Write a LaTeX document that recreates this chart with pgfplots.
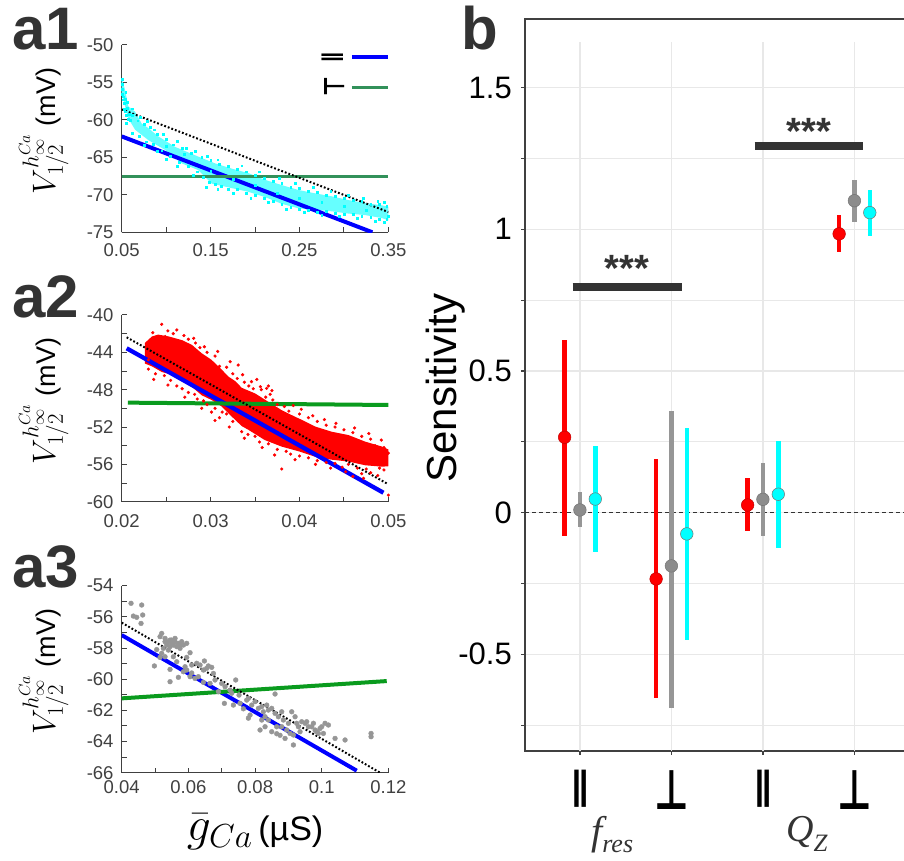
\RequirePackage{fix-cm}
\documentclass[border=0pt]{standalone}
\usepackage{fontspec}
\setmainfont{Liberation Sans}
\newfontfamily\dejavu{DejaVu Sans}
\newfontfamily\timesf{Liberation Serif}
\usepackage{pgfplots}
\pgfplotsset{compat=1.18}
\definecolor{axgray}{HTML}{404040}
\definecolor{lbl}{HTML}{333333}
\definecolor{sgreen}{RGB}{50,145,90}
\definecolor{mgreen}{RGB}{10,155,30}
\definecolor{ptgray}{RGB}{150,150,150}
\definecolor{bgray}{RGB}{150,150,150}
\definecolor{mgray}{RGB}{140,140,140}
\definecolor{gridc}{RGB}{232,232,232}
\definecolor{cyanc}{RGB}{0,255,255}
\pgfplotsset{
  apanel/.style={
    scale only axis, width=266.7pt, anchor=south west,
    axis x line*=bottom, axis y line*=left,
    axis line style={axgray, line width=1.3pt, -},
    scaled x ticks=false, scaled y ticks=false,
    tick align=inside,
    major tick length=5pt, minor tick length=5pt,
    every tick/.append style={axgray, line width=1pt},
    tick label style={font=\fontsize{18.5}{20}\selectfont, text=axgray, inner sep=0pt},
    yticklabel style={anchor=east, xshift=-8pt},
    xticklabel style={anchor=north},
    ylabel style={at={(axis description cs:-0.25,0.54)}, anchor=base, font=\fontsize{27}{30}\selectfont, text=black},
  },
  bluel/.style={blue, line width=4pt},
  dotl/.style={black, line width=2pt, dash pattern=on 1.8pt off 2pt},
}
\newcommand{\vlab}{\scalebox{1.2}{$V^{h^{Ca}_{\infty}}_{1/2}$} (mV)}
\begin{document}
\begin{tikzpicture}
\path[use as bounding box] (0pt,0pt) rectangle (904pt,861pt);

% ---------------- a1 ----------------
\begin{axis}[apanel, at={(121.7pt,628.7pt)}, height=187.3pt,
  xmin=0.05, xmax=0.35, ymin=-75, ymax=-50,
  xtick={0.05,0.15,0.25,0.35}, xticklabels={0.05,0.15,0.25,0.35},
  minor xtick={0.1,0.2,0.3},
  ytick={-75,-70,-65,-60,-55,-50}, yticklabels={-75,-70,-65,-60,-55,-50},
  xticklabel style={yshift=-11pt},
  ylabel={\vlab}]
\addplot[fill=cyanc!60!white, draw=none, forget plot] coordinates {
(0.05,-54.45) (0.0538,-56.0) (0.0575,-58.2) (0.065,-58.9) (0.0725,-60.5) (0.08,-61.1) (0.0912,-62.2) (0.110,-63.6) (0.1362,-64.9) (0.155,-65.8) (0.1737,-66.5) (0.1925,-67.1) (0.2112,-68.0) (0.23,-68.7) (0.2487,-69.35) (0.2675,-69.8) (0.2862,-70.2) (0.305,-70.7) (0.3237,-71.1) (0.3425,-71.4) (0.35,-71.6)
(0.35,-73.4) (0.3425,-73.1) (0.3237,-72.7) (0.305,-72.5) (0.2862,-72.2) (0.2675,-72.0) (0.2487,-71.8) (0.23,-71.2) (0.2112,-70.3) (0.1925,-69.6) (0.1737,-69.1) (0.1512,-68.5) (0.1362,-66.7) (0.1175,-65.8) (0.0987,-64.0) (0.08,-62.7) (0.065,-61.3) (0.0575,-59.8) (0.0538,-58.2) (0.05,-56.5)};
\addplot[only marks, mark=square*, mark size=0.9pt, cyanc, forget plot] coordinates {
(0.0502,-54.6) (0.0505,-55.2) (0.0508,-55.9) (0.0503,-56.6) (0.0512,-57.3) (0.0518,-56.9) (0.0525,-57.8) (0.053,-58.6) (0.0535,-57.2) (0.054,-58.9) (0.0552,-59.4) (0.056,-58.4) (0.0572,-59.9) (0.0585,-59.2) (0.06,-60.0) (0.0615,-59.4)
(0.068,-60.1) (0.075,-60.6) (0.082,-61.0) (0.09,-61.9) (0.1,-62.6) (0.108,-63.3) (0.118,-63.8) (0.128,-64.4) (0.14,-65.0) (0.15,-65.4) (0.16,-65.9) (0.17,-66.2) (0.18,-66.6) (0.19,-66.9) (0.2,-67.4) (0.21,-67.8) (0.22,-68.2) (0.23,-68.5) (0.24,-69.0) (0.25,-69.1) (0.26,-69.5) (0.27,-69.6) (0.28,-70.0) (0.29,-70.2) (0.3,-70.5) (0.31,-70.7) (0.32,-70.9) (0.33,-71.2) (0.34,-71.3) (0.348,-71.5)
(0.07,-62.2) (0.078,-62.9) (0.085,-63.2) (0.095,-64.1) (0.105,-64.8) (0.115,-65.6) (0.125,-66.2) (0.135,-66.9) (0.142,-67.6) (0.148,-68.3) (0.155,-68.6) (0.162,-68.8) (0.17,-69.2) (0.18,-69.3) (0.19,-69.8) (0.2,-70.1) (0.21,-70.5) (0.22,-70.9) (0.23,-71.3) (0.24,-71.6) (0.25,-71.9) (0.26,-72.0) (0.27,-72.3) (0.28,-72.2) (0.29,-72.5) (0.3,-72.6) (0.31,-72.6) (0.32,-72.9) (0.33,-73.0) (0.34,-73.2) (0.348,-73.3) (0.35,-72.8)
(0.1,-63.5) (0.15,-66.8) (0.2,-68.7) (0.25,-70.5) (0.3,-71.5) (0.12,-64.6) (0.175,-67.9) (0.225,-69.8) (0.275,-71.0) (0.325,-72.0)
(0.0545,-56.3) (0.0565,-57.6) (0.0622,-58.5) (0.071,-59.6) (0.079,-60.2) (0.087,-61.3) (0.097,-61.9) (0.112,-62.8) (0.123,-63.8) (0.133,-64.2) (0.146,-64.8) (0.158,-65.3) (0.185,-66.1) (0.205,-66.9) (0.227,-67.8) (0.245,-68.4) (0.265,-69.0) (0.285,-69.5) (0.305,-70.0) (0.322,-70.4) (0.338,-70.8) (0.345,-71.0)
(0.0555,-60.4) (0.062,-61.8) (0.075,-63.4) (0.09,-64.2) (0.1,-65.2) (0.112,-66.2) (0.13,-67.4) (0.145,-69.0) (0.158,-69.3) (0.175,-69.8) (0.195,-70.4) (0.215,-71.0) (0.235,-71.9) (0.255,-72.3) (0.275,-72.7) (0.295,-72.9) (0.315,-73.1) (0.335,-73.5) (0.345,-73.7)};
\addplot[bluel, forget plot] coordinates {(0.05,-62.2) (0.332,-75)};
\addplot[sgreen, line width=3.4pt, forget plot] coordinates {(0.05,-67.57) (0.35,-67.57)};
\addplot[dotl, forget plot] coordinates {(0.05,-58.6) (0.35,-72.3)};
% legend
\addplot[bluel, forget plot] coordinates {(0.3088,-51.6) (0.35,-51.6)};
\addplot[sgreen, line width=3.4pt, forget plot] coordinates {(0.3088,-55.65) (0.35,-55.65)};
\node[rotate=-90, inner sep=0pt, font=\dejavu\bfseries\fontsize{22}{22}\selectfont] at (axis cs:0.2871,-51.65) {∥};
\node[rotate=-90, inner sep=0pt, font=\dejavu\bfseries\fontsize{22}{22}\selectfont] at (axis cs:0.2895,-55.6) {\scalebox{1}[1.3]{⊥}};
\end{axis}

% ---------------- a2 ----------------
\begin{axis}[apanel, at={(121.7pt,359.3pt)}, height=186.7pt,
  xmin=0.02, xmax=0.05, ymin=-60, ymax=-40,
  xtick={0.02,0.03,0.04,0.05}, xticklabels={0.02,0.03,0.04,0.05},
  minor xtick={0.025,0.035,0.045},
  ytick={-60,-56,-52,-48,-44,-40}, yticklabels={-60,-56,-52,-48,-44,-40},
  minor ytick={-58,-54,-50,-46,-42},
  xticklabel style={yshift=-13pt},
  ylabel={\vlab}]
\addplot[fill=red, draw=none, forget plot] coordinates {
(0.0226,-43.0) (0.0234,-42.3) (0.0241,-42.1) (0.0253,-42.3) (0.0268,-42.7) (0.0279,-43.2) (0.029,-44.1) (0.0301,-44.8) (0.0313,-45.9) (0.032,-46.6) (0.0328,-47.1) (0.0335,-47.8) (0.035,-48.4) (0.0365,-49.3) (0.038,-50.2) (0.0395,-50.9) (0.0403,-51.25) (0.0418,-51.96) (0.0436,-52.5) (0.0455,-52.86) (0.0474,-53.57) (0.0493,-54.1) (0.05,-54.4)
(0.05,-56.2) (0.0493,-56.25) (0.0474,-56.1) (0.0455,-55.7) (0.0436,-55.5) (0.0418,-55.2) (0.0399,-54.6) (0.038,-54.1) (0.0361,-53.4) (0.03425,-52.3) (0.0335,-51.9) (0.0324,-50.9) (0.03125,-49.8) (0.0301,-49.1) (0.029,-48.6) (0.0279,-47.7) (0.02675,-47.1) (0.0256,-46.4) (0.0245,-46.1) (0.0234,-45.5) (0.0226,-45.2)};
\addplot[only marks, mark=*, mark size=1.4pt, red, forget plot] coordinates {
(0.0235,-41.9) (0.0245,-41.0) (0.0249,-42.3) (0.0258,-42.0) (0.0262,-41.6) (0.027,-42.2) (0.0275,-42.6) (0.0283,-43.0) (0.0288,-43.5) (0.0296,-44.0) (0.0305,-44.4) (0.031,-45.5) (0.0318,-45.6) (0.0325,-46.3) (0.033,-46.8) (0.0338,-47.2) (0.0343,-47.6) (0.0348,-47.9) (0.0357,-48.0) (0.0365,-47.6) (0.0369,-48.1) (0.0362,-48.8) (0.037,-49.1) (0.0375,-49.6) (0.0388,-50.3) (0.0393,-49.7) (0.04,-50.6) (0.041,-51.0) (0.042,-51.4) (0.043,-51.8) (0.044,-52.0) (0.045,-52.3) (0.046,-52.6) (0.047,-53.0) (0.048,-53.3) (0.0485,-54.0) (0.0495,-54.2) (0.05,-54.8)
(0.023,-45.8) (0.0238,-46.3) (0.0248,-46.5) (0.0255,-47.0) (0.0262,-47.6) (0.0268,-47.9) (0.0275,-48.3) (0.0282,-48.5) (0.0285,-49.0) (0.0292,-49.2) (0.0296,-49.6) (0.0301,-50.4) (0.0305,-50.0) (0.031,-51.0) (0.0313,-50.4) (0.0318,-50.6) (0.0325,-51.4) (0.0335,-52.5) (0.0342,-52.8) (0.035,-53.0) (0.0355,-53.6) (0.0365,-53.8) (0.0375,-54.4) (0.038,-56.5) (0.0385,-54.6) (0.039,-54.9) (0.04,-55.1) (0.041,-55.3) (0.042,-55.6) (0.043,-55.8) (0.044,-55.9) (0.0448,-56.3) (0.0455,-56.0) (0.046,-57.3) (0.0465,-56.4) (0.047,-57.0) (0.0475,-56.5) (0.048,-56.9) (0.049,-56.4) (0.0495,-56.6) (0.05,-59.3)
(0.0331,-45.36) (0.0346,-47.14) (0.0356,-47.68) (0.0363,-47.86) (0.023,-44.8) (0.0228,-44.1)
(0.0252,-41.7) (0.0281,-42.5) (0.0293,-43.4) (0.0308,-43.9) (0.0322,-45.0) (0.0336,-46.4) (0.0352,-46.9) (0.0367,-48.5) (0.0383,-49.8) (0.0402,-50.1) (0.0415,-50.8) (0.0428,-51.2) (0.0441,-51.6) (0.0462,-52.1) (0.0478,-52.7) (0.0492,-53.4)
(0.0236,-46.9) (0.0252,-47.5) (0.0271,-48.8) (0.029,-50.0) (0.0305,-51.3) (0.0321,-52.0) (0.0338,-53.2) (0.0358,-54.2) (0.0372,-55.0) (0.0395,-55.5) (0.0418,-56.0) (0.0435,-56.4) (0.0452,-56.8) (0.0472,-57.5) (0.0488,-57.2)};
\addplot[bluel, line width=4.3pt, forget plot] coordinates {(0.02056,-43.57) (0.04944,-59.04)};
\addplot[mgreen, line width=4pt, forget plot] coordinates {(0.0207,-49.39) (0.05,-49.64)};
\addplot[dotl, forget plot] coordinates {(0.02056,-42.39) (0.05,-58.14)};
\end{axis}

% ---------------- a3 ----------------
\begin{axis}[apanel, at={(121.7pt,88.3pt)}, height=187pt,
  xmin=0.04, xmax=0.12, ymin=-66, ymax=-54,
  xtick={0.04,0.06,0.08,0.1,0.12}, xticklabels={0.04,0.06,0.08,0.1,0.12},
  minor xtick={0.05,0.07,0.09,0.11},
  ytick={-66,-64,-62,-60,-58,-56,-54}, yticklabels={-66,-64,-62,-60,-58,-56,-54},
  minor ytick={-65,-63,-61,-59,-57,-55},
  xticklabel style={yshift=-7.5pt},
  ylabel={\vlab},
  xlabel={\scalebox{1.4}{$\bar{g}_{Ca}$}\,(µS)},
  xlabel style={at={(axis description cs:0.5,-0.362)}, anchor=base, font=\fontsize{34}{38}\selectfont, text=black}]
\addplot[bluel, forget plot] coordinates {(0.04,-57.17) (0.1105,-65.87)};
\addplot[mgreen, line width=4pt, forget plot] coordinates {(0.04,-61.23) (0.1195,-60.12)};
\addplot[only marks, mark=*, mark size=2.4pt, ptgray, forget plot] coordinates {
(0.0428,-55.13) (0.046,-55.24) (0.0435,-55.95) (0.0445,-56.03) (0.0463,-55.88) (0.0458,-56.42)
(0.052,-57.06) (0.053,-57.38) (0.054,-57.59) (0.055,-57.49) (0.056,-57.59) (0.057,-57.70) (0.058,-57.59) (0.0595,-57.70) (0.0535,-57.81) (0.0545,-57.91) (0.0555,-57.81) (0.0565,-57.91) (0.0525,-58.02) (0.054,-58.13) (0.055,-57.70) (0.0575,-57.81) (0.056,-57.38) (0.0545,-57.49) (0.053,-57.59) (0.0585,-57.81) (0.0515,-57.27)
(0.052,-58.34) (0.053,-58.56) (0.0555,-58.56) (0.0565,-58.88) (0.0575,-58.02) (0.0498,-59.15) (0.0545,-59.37) (0.0545,-60.16) (0.057,-59.88) (0.059,-59.20) (0.0595,-59.41) (0.061,-59.09) (0.0625,-58.98) (0.0635,-59.09) (0.0648,-58.83) (0.066,-59.15) (0.067,-59.24) (0.0675,-59.63) (0.0655,-59.30) (0.0645,-59.41) (0.063,-59.84) (0.062,-59.95) (0.0605,-59.84) (0.0585,-59.52)
(0.068,-60.05) (0.0665,-60.27) (0.07,-60.27) (0.071,-60.48) (0.0742,-60.05) (0.0725,-60.70) (0.0708,-61.55) (0.0735,-61.66) (0.0752,-61.02) (0.0755,-61.55) (0.0775,-61.34) (0.078,-61.23) (0.079,-61.66) (0.0785,-62.30) (0.08,-61.44) (0.081,-61.87) (0.082,-61.76) (0.0825,-62.09) (0.083,-62.41) (0.0835,-61.66) (0.084,-61.98) (0.085,-61.87) (0.086,-60.95) (0.086,-62.19) (0.087,-62.41) (0.088,-62.09) (0.0885,-62.62)
(0.084,-62.62) (0.083,-63.05) (0.082,-62.62) (0.0815,-63.26) (0.085,-63.37) (0.0865,-63.05) (0.088,-63.05) (0.0895,-63.26) (0.0905,-63.48) (0.0915,-63.58) (0.09,-62.83) (0.091,-62.09) (0.092,-62.41) (0.0925,-62.83) (0.093,-63.05) (0.0935,-63.37) (0.0915,-64.22) (0.094,-62.73) (0.095,-62.83) (0.0955,-62.73) (0.096,-63.05) (0.097,-63.05) (0.098,-63.26) (0.0985,-63.37) (0.099,-63.48) (0.0975,-62.83) (0.1,-63.05) (0.101,-62.83) (0.102,-62.94) (0.0995,-63.16) (0.1005,-63.48) (0.104,-63.80) (0.107,-63.90) (0.1148,-63.48) (0.1148,-63.69)
(0.0875,-63.6) (0.089,-63.8) (0.0865,-63.5) (0.078,-62.5) (0.0765,-61.9) (0.073,-60.9) (0.069,-60.8) (0.0645,-60.2) (0.061,-59.6) (0.0595,-58.6) (0.0605,-58.3) (0.0505,-58.1) (0.0515,-58.6)};
\addplot[dotl, forget plot] coordinates {(0.04,-56.37) (0.1175,-66.0)};
\end{axis}

% ---------------- b ----------------
\begin{axis}[at={(525pt,110pt)}, anchor=south west, scale only axis,
  width=384.3pt, height=731.7pt,
  xmin=0.4, xmax=4.6, ymin=-0.8413, ymax=1.7414,
  axis line style={axgray, line width=2pt},
  xtick={1,2,3,4}, xticklabels={∥,\scalebox{1}[1.45]{⊥},∥,\scalebox{1}[1.45]{⊥}},
  ytick={-0.5,0,0.5,1,1.5}, yticklabels={-0.5,0,0.5,1,1.5},
  minor ytick={-0.75,-0.25,0.25,0.75,1.25},
  xtick pos=bottom, ytick pos=left,
  tick align=outside, major tick length=4pt, minor tick length=4pt,
  every tick/.append style={axgray, line width=1.2pt},
  ymajorgrids, yminorgrids,
  major grid style={gridc, line width=1.2pt}, minor grid style={gridc, line width=1.2pt},
  yticklabel style={font=\fontsize{31}{32}\selectfont, inner sep=0pt, anchor=east, xshift=-9pt},
  xticklabel style={font=\dejavu\bfseries\fontsize{38}{38}\selectfont, inner sep=0pt, anchor=north, yshift=-15pt},
  ylabel={Sensitivity},
  ylabel style={at={(axis description cs:-0.1777,0.496)}, anchor=base, font=\fontsize{42}{44}\selectfont},
]
\addplot[gridc, line width=1.2pt, forget plot] coordinates {(1,-0.85) (1,1.662)};
\addplot[gridc, line width=1.2pt, forget plot] coordinates {(2,-0.85) (2,1.662)};
\addplot[gridc, line width=1.2pt, forget plot] coordinates {(3,-0.85) (3,1.662)};
\addplot[gridc, line width=1.2pt, forget plot] coordinates {(4,-0.85) (4,1.662)};
\addplot[lbl, line width=1.5pt, dash pattern=on 4pt off 3pt, forget plot] coordinates {(0.4,0) (4.6,0)};
% significance bars
\addplot[lbl, line width=8pt, forget plot] coordinates {(0.92,0.797) (2.12,0.797)};
\addplot[lbl, line width=8pt, forget plot] coordinates {(2.91,1.295) (4.09,1.295)};
\node[anchor=base, inner sep=0pt, text=lbl, font=\bfseries\fontsize{38}{38}\selectfont] at (axis cs:1.514,0.815) {***};
\node[anchor=base, inner sep=0pt, text=lbl, font=\bfseries\fontsize{38}{38}\selectfont] at (axis cs:3.503,1.298) {***};
% red
\addplot[red, only marks, mark=*, mark size=6.3pt, mark options={fill=red, draw=red!75!black, line width=0.5pt},
  error bars/.cd, y dir=both, y explicit, error mark=none, error bar style={line width=4.5pt, red}]
  table[x=x, y=y, y error plus=ep, y error minus=em] {
x y ep em
0.833 0.266 0.344 0.347
1.833 -0.234 0.422 0.419
2.833 0.027 0.094 0.091
3.833 0.984 0.067 0.065
};
% grey
\addplot[bgray, only marks, mark=*, mark size=6.3pt, mark options={fill=mgray, draw=black!55, line width=0.5pt},
  error bars/.cd, y dir=both, y explicit, error mark=none, error bar style={line width=4.5pt, bgray}]
  table[x=x, y=y, y error plus=ep, y error minus=em] {
x y ep em
1 0.0095 0.0625 0.0595
2 -0.188 0.547 0.500
3 0.047 0.127 0.129
4 1.101 0.073 0.074
};
% cyan
\addplot[cyanc, only marks, mark=*, mark size=6.3pt, mark options={fill=cyanc, draw=black!55, line width=0.5pt},
  error bars/.cd, y dir=both, y explicit, error mark=none, error bar style={line width=4.5pt, cyanc}]
  table[x=x, y=y, y error plus=ep, y error minus=em] {
x y ep em
1.168 0.048 0.187 0.188
2.168 -0.075 0.375 0.374
3.168 0.065 0.188 0.191
4.168 1.059 0.080 0.082
};
\end{axis}

% category labels below panel b
\node[anchor=base west, inner sep=0pt, text=lbl] at (591pt,16pt) {\timesf\itshape\fontsize{40}{40}\selectfont f\raisebox{-8pt}{\fontsize{26}{26}\selectfont res}};
\node[anchor=base west, inner sep=0pt, text=lbl] at (786pt,19pt) {\timesf\itshape\fontsize{38}{38}\selectfont Q\raisebox{-10pt}{\fontsize{25}{25}\selectfont Z}};

% panel letters
\node[anchor=base west, inner sep=0pt, text=lbl, font=\bfseries\fontsize{60}{60}\selectfont] at (12pt,811pt) {a1};
\node[anchor=base west, inner sep=0pt, text=lbl, font=\bfseries\fontsize{60}{60}\selectfont] at (12pt,543pt) {a2};
\node[anchor=base west, inner sep=0pt, text=lbl, font=\bfseries\fontsize{60}{60}\selectfont] at (12pt,273pt) {a3};
\node[anchor=base west, inner sep=0pt, text=lbl, font=\bfseries\fontsize{60}{60}\selectfont] at (461pt,811pt) {b};
\end{tikzpicture}
\end{document}
